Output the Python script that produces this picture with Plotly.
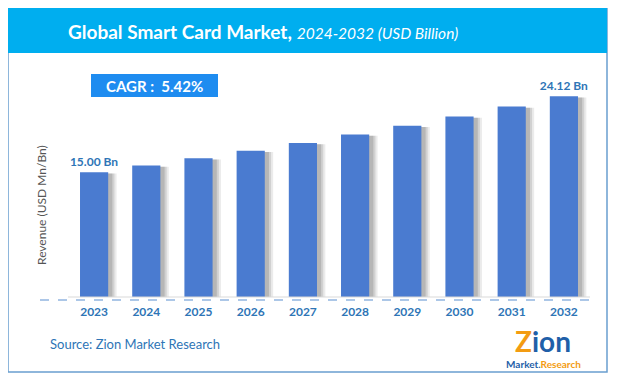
import plotly.graph_objects as go

years = ["2023", "2024", "2025", "2026", "2027", "2028", "2029", "2030", "2031", "2032"]
revenue = [15.00, 15.81, 16.67, 17.57, 18.52, 19.53, 20.58, 21.70, 22.88, 24.12]
bar_labels = ["15.00 Bn", "", "", "", "", "", "", "", "", "24.12 Bn"]

# page body has an 8px margin, so the figure is drawn at (8, 8)
OFF = 8
W, H = 617 - OFF, 383 - OFF
PL, PR, PT, PB = 68, 590, 64, 297
L, R, T, B = PL - OFF, 617 - PR, PT - OFF, 383 - PB
PW, PH = PR - PL, PB - PT
YMAX = 28.0

def px(x):
    return (x - PL) / PW

def py(y):
    return (PB - y) / PH

LABEL_BLUE = "#2E75B6"
BAR_BLUE = "#4A7BD0"
FONT = "Lato"

fig = go.Figure()

for dx, op in [(0.16, 0.10), (0.12, 0.14), (0.08, 0.18)]:
    fig.add_trace(go.Bar(
        x=years, y=[v - 0.15 for v in revenue], width=0.54, offset=-0.27 + dx,
        marker=dict(color=f"rgba(60,60,60,{op})", line=dict(width=0)),
        hoverinfo="skip", showlegend=False,
    ))

fig.add_trace(go.Bar(
    x=years, y=revenue, width=0.54, offset=-0.27,
    marker=dict(color=BAR_BLUE, line=dict(width=0)),
    text=bar_labels, textposition="outside", constraintext="none",
    textfont=dict(family=FONT, size=12, color=LABEL_BLUE),
    texttemplate="<b>%{text}</b>",
    cliponaxis=False, showlegend=False,
))

shapes = [
    dict(type="rect", xref="paper", yref="paper", x0=px(8), x1=px(607), y0=py(372), y1=py(8),
         line=dict(color="#6A9FCF", width=1.5), fillcolor="rgba(0,0,0,0)", layer="below"),
    dict(type="rect", xref="paper", yref="paper", x0=px(8), x1=px(607), y0=py(53), y1=py(8),
         line=dict(width=0), fillcolor="#00AEEF", layer="below"),
    dict(type="rect", xref="paper", yref="paper", x0=px(91), x1=px(218), y0=py(97), y1=py(74),
         line=dict(width=0), fillcolor="#1E8CF0", layer="below"),
    dict(type="line", xref="paper", yref="paper", x0=px(68), x1=px(590), y0=py(297), y1=py(297),
         line=dict(color="#D9D9D9", width=1)),
    dict(type="line", xref="paper", yref="paper", x0=px(40), x1=px(595), y0=py(300), y1=py(300),
         line=dict(color="#5B8FD0", width=1, dash="dash")),
]

annotations = [
    dict(xref="paper", yref="paper", x=px(66), y=py(32), xanchor="left", yanchor="middle",
         text="<b>Global Smart Card Market,</b> <i style='font-size:15.5px'>2024-2032 (USD Billion)</i>",
         showarrow=False, font=dict(family=FONT, size=19, color="white")),
    dict(xref="paper", yref="paper", x=px(154), y=py(86), xanchor="center", yanchor="middle",
         text="<b>CAGR :  5.42%</b>", showarrow=False,
         font=dict(family=FONT, size=15, color="white")),
    dict(xref="paper", yref="paper", x=px(41), y=py(205), xanchor="center", yanchor="middle",
         text="Revenue (USD Mn/Bn)", textangle=-90, showarrow=False,
         font=dict(family=FONT, size=12, color="#555555")),
    dict(xref="paper", yref="paper", x=px(48), y=py(344), xanchor="left", yanchor="middle",
         text="Source: Zion Market Research", showarrow=False,
         font=dict(family=FONT, size=13, color=LABEL_BLUE)),
    dict(xref="paper", yref="paper", x=px(543), y=py(341), xanchor="center", yanchor="middle",
         text="<b><span style='color:#F39C12'>Z</span>ion</b>", showarrow=False,
         font=dict(family=FONT, size=28, color="#1F5FA8")),
    dict(xref="paper", yref="paper", x=px(543), y=py(364), xanchor="center", yanchor="middle",
         text="<b>Market.<span style='color:#F39C12'>Research</span></b>", showarrow=False,
         font=dict(family=FONT, size=10, color="#1F5FA8")),
]

fig.update_layout(
    width=W, height=H,
    margin=dict(l=L, r=R, t=T, b=B, pad=0),
    paper_bgcolor="white", plot_bgcolor="white",
    barmode="overlay",
    shapes=shapes, annotations=annotations,
    xaxis=dict(type="category", showgrid=False, showline=False, zeroline=False,
               ticks="", tickfont=dict(family=FONT, size=12, color=LABEL_BLUE),
               ticklabelstandoff=6, tickprefix="<b>", ticksuffix="</b>"),
    yaxis=dict(range=[0, YMAX], visible=False),
    showlegend=False,
)

fig.write_html("out.html")
